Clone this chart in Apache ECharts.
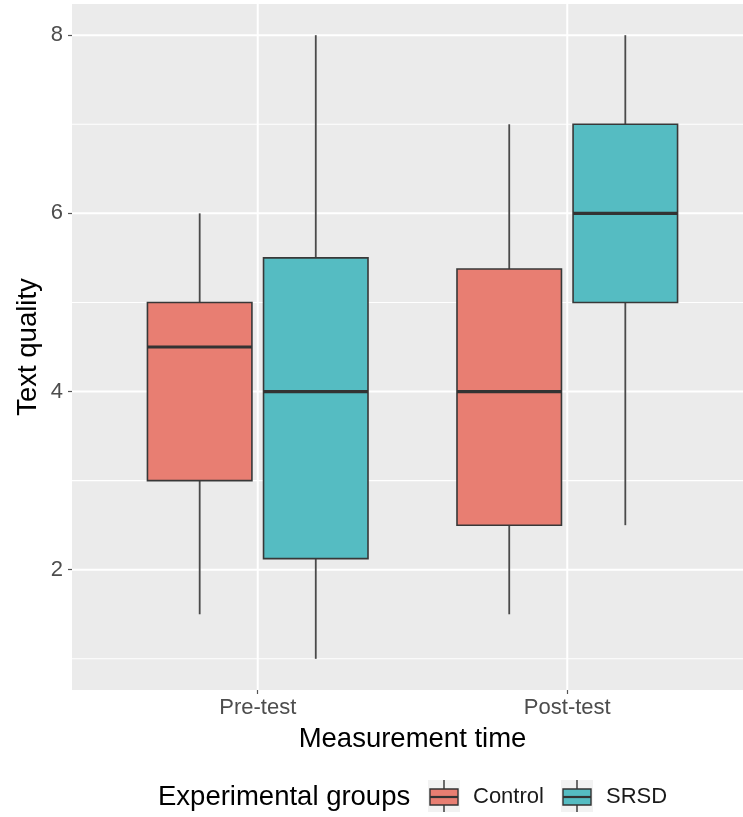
<!DOCTYPE html>
<html>
<head>
<meta charset="utf-8">
<script src="https://cdn.jsdelivr.net/npm/echarts@6/dist/echarts.min.js"></script>
<style>
html,body{margin:0;padding:0;background:#fff;}
#chart{width:743px;height:817px;}
</style>
</head>
<body>
<div id="chart"></div>
<script>
// ---- data ----
const categories = ['Pre-test', 'Post-test'];
const groups = ['Control', 'SRSD'];
// [low whisker, Q1, median, Q3, high whisker] per category
const controlStats = [[1.5, 3, 4.5, 5, 6], [1.5, 2.5, 4, 5.375, 7]];
const srsdStats = [[1, 2.125, 4, 5.5, 8], [2.5, 5, 6, 7, 8]];
const yTickLabels = [2, 4, 6, 8];
const yMinorLines = [1, 3, 5, 7];

// ---- style ----
const FONT = 'Liberation Sans, Arial, sans-serif';
const colors = {Control: '#E87E72', SRSD: '#55BCC2'};
const dodge = 0.1875, boxW = 0.3375;

const chart = echarts.init(document.getElementById('chart'), null, {renderer: 'canvas'});

function boxRender(offset, color) {
  return function (params, api) {
    const xi = api.value(0) + 1 + offset;
    const lo = api.coord([xi, api.value(1)]);
    const q1 = api.coord([xi, api.value(2)]);
    const md = api.coord([xi, api.value(3)]);
    const q3 = api.coord([xi, api.value(4)]);
    const hi = api.coord([xi, api.value(5)]);
    const w = api.size([boxW, 0])[0];
    const cx = q1[0];
    return {
      type: 'group',
      children: [
        {type: 'line', shape: {x1: cx, y1: hi[1], x2: cx, y2: q3[1]}, style: {stroke: '#4a4a4a', lineWidth: 1.8}},
        {type: 'line', shape: {x1: cx, y1: q1[1], x2: cx, y2: lo[1]}, style: {stroke: '#4a4a4a', lineWidth: 1.8}},
        {type: 'rect', shape: {x: cx - w / 2, y: q3[1], width: w, height: q1[1] - q3[1]}, style: {fill: color, stroke: '#383838', lineWidth: 1.6}},
        {type: 'line', shape: {x1: cx - w / 2, y1: md[1], x2: cx + w / 2, y2: md[1]}, style: {stroke: '#333333', lineWidth: 3.2}}
      ]
    };
  };
}

function gridRender(params, api) {
  const kind = api.value(0);
  const v = api.value(1);
  let a, b, lw;
  if (kind === 2) {
    a = api.coord([v, 0.65]); b = api.coord([v, 8.35]); lw = 2;
  } else {
    a = api.coord([0.4, v]); b = api.coord([2.6, v]); lw = kind === 0 ? 2 : 1.1;
  }
  return {type: 'line', shape: {x1: a[0], y1: a[1], x2: b[0], y2: b[1]}, style: {stroke: '#FFFFFF', lineWidth: lw}};
}

const gridData = []
  .concat(yTickLabels.map(v => [0, v]))
  .concat(yMinorLines.map(v => [1, v]))
  .concat(categories.map((c, i) => [2, i + 1]));

function legendKey(x, y, color, label, tx) {
  return [
    {type: 'rect', shape: {x: x, y: y, width: 32, height: 32}, style: {fill: '#F2F2F2'}},
    {type: 'line', shape: {x1: x + 16, y1: y, x2: x + 16, y2: y + 32}, style: {stroke: '#333', lineWidth: 1.4}},
    {type: 'rect', shape: {x: x + 2, y: y + 9, width: 28, height: 16}, style: {fill: color, stroke: '#333', lineWidth: 1.4}},
    {type: 'line', shape: {x1: x + 2, y1: y + 17, x2: x + 30, y2: y + 17}, style: {stroke: '#333', lineWidth: 2.2}},
    {type: 'text', x: tx, y: y + 17, style: {text: label, font: '22px ' + FONT, fill: '#1a1a1a', verticalAlign: 'middle'}}
  ];
}

const option = {
  backgroundColor: '#FFFFFF',
  animation: false,
  grid: {left: 72, top: 4, width: 681, height: 686, show: true, backgroundColor: '#EBEBEB', borderWidth: 0,
    containLabel: false, outerBoundsMode: 'none'},
  xAxis: {
    type: 'value', min: 0.4, max: 2.6,
    name: 'Measurement time', nameLocation: 'middle', nameGap: 35, nameMoveOverlap: false,
    nameTextStyle: {fontFamily: FONT, fontSize: 27.5, color: '#000'},
    axisLine: {show: false},
    splitLine: {show: false},
    axisTick: {show: true, length: 4, customValues: [1, 2], lineStyle: {color: '#555', width: 1.2}},
    axisLabel: {customValues: [1, 2], margin: 7, fontFamily: FONT, fontSize: 22, color: '#4D4D4D',
      formatter: v => categories[Math.round(v) - 1] || ''}
  },
  yAxis: {
    type: 'value', min: 0.65, max: 8.35,
    name: 'Text quality', nameLocation: 'middle', nameGap: 30, nameMoveOverlap: false,
    nameTextStyle: {fontFamily: FONT, fontSize: 27.5, color: '#000'},
    axisLine: {show: false},
    splitLine: {show: false},
    axisTick: {show: true, length: 4, customValues: yTickLabels, lineStyle: {color: '#555', width: 1.2}},
    axisLabel: {customValues: yTickLabels, margin: 9, fontFamily: FONT, fontSize: 22, color: '#4D4D4D'}
  },
  series: [
    {type: 'custom', name: 'grid', silent: true, z: 1, renderItem: gridRender, data: gridData, encode: {x: 1, y: 1}},
    {type: 'custom', name: 'Control', z: 2, renderItem: boxRender(-dodge, colors.Control),
      data: controlStats.map((s, i) => [i].concat(s)), encode: {x: 0, y: [1, 2, 3, 4, 5]}},
    {type: 'custom', name: 'SRSD', z: 2, renderItem: boxRender(dodge, colors.SRSD),
      data: srsdStats.map((s, i) => [i].concat(s)), encode: {x: 0, y: [1, 2, 3, 4, 5]}}
  ],
  graphic: {
    elements: [
      {type: 'text', x: 158, y: 797, style: {text: 'Experimental groups', font: '27.5px ' + FONT, fill: '#000', verticalAlign: 'middle'}}
    ].concat(legendKey(428, 780, colors.Control, 'Control', 473))
     .concat(legendKey(561, 780, colors.SRSD, 'SRSD', 606))
  }
};
chart.setOption(option);
</script>
</body>
</html>
